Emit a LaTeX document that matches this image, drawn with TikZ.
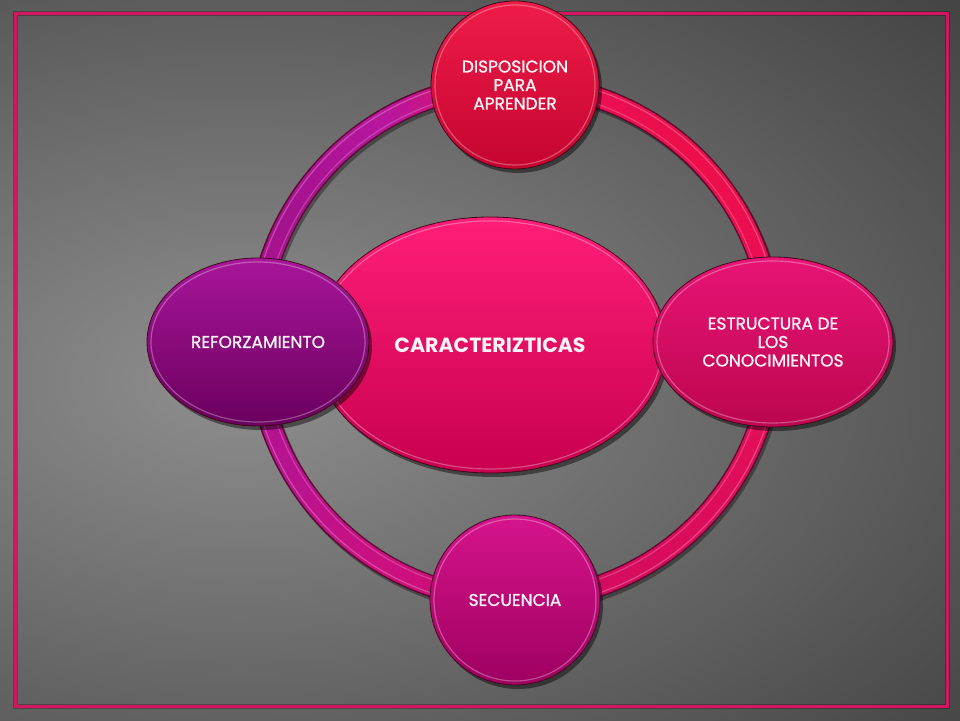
\documentclass[tikz,border=0pt]{standalone}
\usepackage{fontspec}
\setmainfont{Poppins}
\newfontfamily\labelfont{Poppins}[FakeBold=1.2]
\usetikzlibrary{shapes.geometric,shadows}
\definecolor{bgdark}{gray}{0.27}
\definecolor{bglight}{gray}{0.56}
\definecolor{framecol}{HTML}{D4165E}
\definecolor{ringedge}{HTML}{5A0A2E}
\definecolor{nodeedge}{HTML}{40081C}
\definecolor{txt}{HTML}{FAF4F6}
\definecolor{ra}{HTML}{EA0E5A}
\definecolor{rb}{HTML}{EE0E4A}
\definecolor{rc}{HTML}{E8105A}
\definecolor{rd}{HTML}{B8169E}
\definecolor{re}{HTML}{A4128E}
\definecolor{rf}{HTML}{B81290}
\definecolor{rg}{HTML}{CC1080}
\definecolor{rh}{HTML}{CC0C6A}
\definecolor{ri}{HTML}{D80C5C}
\definecolor{rj}{HTML}{E00E5A}
\definecolor{topA}{HTML}{F01C48}
\definecolor{topB}{HTML}{C40430}
\definecolor{rightA}{HTML}{E81476}
\definecolor{rightB}{HTML}{BC064E}
\definecolor{mainA}{HTML}{FF1E78}
\definecolor{mainB}{HTML}{C8004E}
\definecolor{leftA}{HTML}{A8169A}
\definecolor{leftB}{HTML}{6A005E}
\definecolor{botA}{HTML}{D6148C}
\definecolor{botB}{HTML}{9E0060}
\pgfdeclareradialshading{bgshade}{\pgfpoint{0bp}{0bp}}{color(0bp)=(bglight); color(25bp)=(bgdark); color(50bp)=(bgdark)}
\tikzset{
  blob/.style={ellipse, inner sep=0pt, draw=nodeedge, line width=0.8pt, text=txt, align=center,
    font=\labelfont\fontsize{17}{18.5}\selectfont,
    drop shadow={shadow xshift=3pt, shadow yshift=-4pt, opacity=0.45, fill=black}},
  rim/.style={white, opacity=0.3, line width=1.2pt}
}
\begin{document}
\begin{tikzpicture}[x=1pt,y=1pt]
\useasboundingbox (0,0) rectangle (960,720);
\fill[bgdark] (0,0) rectangle (960,720);
\begin{scope}
\clip (0,0) rectangle (960,720);
\shade[shading=bgshade] (240,340) ellipse [x radius=950, y radius=560];
\end{scope}
\draw[black, opacity=0.25, line width=5pt] (15,14) rectangle (947,706);
\draw[framecol, line width=3pt] (15,14) rectangle (947,706);
% ring
\coordinate (ring) at (515,378);
\draw[black, opacity=0.35, line width=22pt] ([shift={(2,-3)}]ring) circle [radius=258];
\draw[ringedge, line width=22pt] (ring) circle [radius=258];
\foreach \s/\e/\ca/\cb in {0/45/ra/rb, 45/90/rb/rc, 90/120/rc/rd, 120/150/rd/re, 150/210/re/rf, 210/240/rf/rg, 240/270/rg/rh, 270/300/rh/ri, 300/330/ri/rj, 330/360/rj/ra}{
  \foreach \i in {0,...,9}{
    \pgfmathsetmacro\aa{\s+(\e-\s)*\i/10}
    \pgfmathsetmacro\bb{\s+(\e-\s)*(\i+1)/10+0.4}
    \pgfmathtruncatemacro\pp{95-\i*10}
    \draw[line width=19pt, color=\ca!\pp!\cb] ([shift={(\aa:258)}]ring) arc[start angle=\aa, end angle=\bb, radius=258];
  }
}
\draw[white, opacity=0.25, line width=1.2pt] (ring) circle [radius=264.5];
\draw[white, opacity=0.2, line width=1.2pt] (ring) circle [radius=251.5];
% nodes
\node[blob, top color=mainA, bottom color=mainB, minimum width=352pt, minimum height=256pt,
  font=\bfseries\fontsize{20.5}{22}\selectfont] (main) at (490,375) {CARACTERIZTICAS};
\draw[rim] (main.center) ellipse [x radius=172, y radius=124];
\node[blob, top color=leftA, bottom color=leftB, minimum width=222pt, minimum height=168pt] (left) at (258,378) {REFORZAMIENTO};
\draw[rim] (left.center) ellipse [x radius=107, y radius=80];
\node[blob, top color=rightA, bottom color=rightB, minimum width=240pt, minimum height=170pt] (right) at (773,378) {ESTRUCTURA DE\\LOS\\CONOCIMIENTOS};
\draw[rim] (right.center) ellipse [x radius=116, y radius=81];
\node[blob, top color=topA, bottom color=topB, minimum width=168pt, minimum height=168pt] (top) at (515,635) {DISPOSICION\\PARA\\APRENDER};
\draw[rim] (top.center) circle [radius=80];
\node[blob, top color=botA, bottom color=botB, minimum width=170pt, minimum height=170pt] (bottom) at (515,120) {SECUENCIA};
\draw[rim] (bottom.center) circle [radius=81];
\end{tikzpicture}
\end{document}
